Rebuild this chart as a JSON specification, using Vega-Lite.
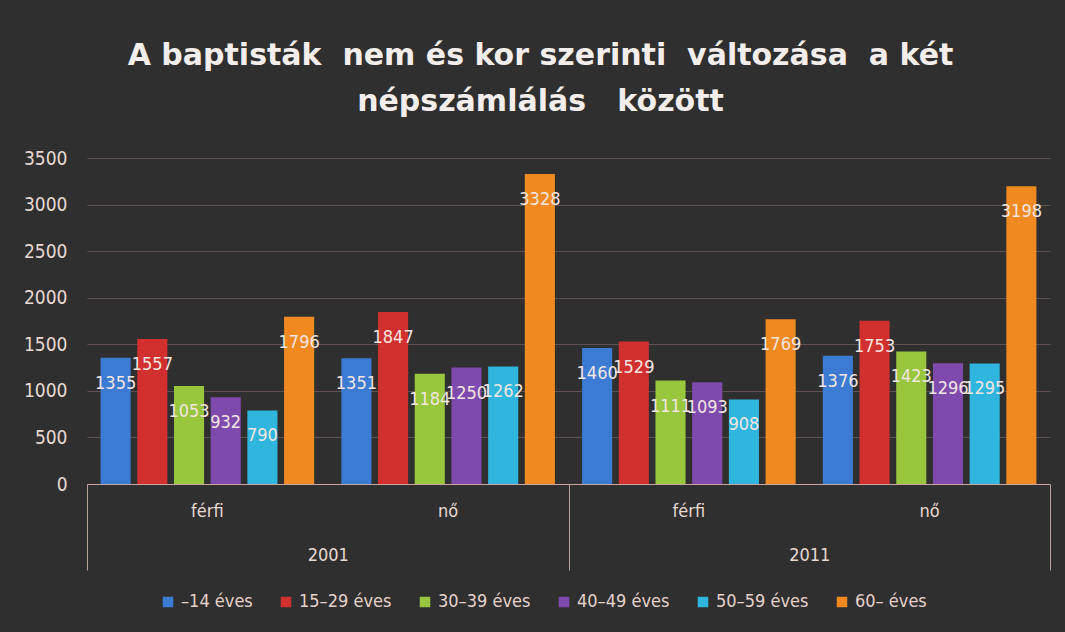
{
  "$schema": "https://vega.github.io/schema/vega-lite/v6.json",
  "width": 963,
  "height": 326,
  "autosize": {"type": "none"},
  "padding": {"left": 87, "top": 158, "right": 15, "bottom": 148},
  "background": "#2f2f2f",
  "title": {
    "text": ["A baptisták \u00a0nem és kor szerinti \u00a0változása \u00a0a két", "népszámlálás \u00a0\u00a0között"],
    "font": "DejaVu Sans",
    "fontSize": 30,
    "fontWeight": "bold",
    "color": "#f3eeec",
    "anchor": "middle",
    "lineHeight": 46,
    "offset": 32,
    "dx": -28
  },
  "config": {
    "view": {"stroke": null},
    "font": "Liberation Sans Narrow, DejaVu Sans Condensed, Roboto Condensed, Roboto",
    "axis": {"labelFont": "Liberation Sans Narrow, DejaVu Sans Condensed, Roboto Condensed, Roboto", "labelColor": "#e9d9d3"},
    "legend": {"labelFont": "Liberation Sans Narrow, DejaVu Sans Condensed, Roboto Condensed, Roboto"}
  },
  "data": {
    "values": [
      {"year": "2001", "sex": "férfi", "age": "–14 éves", "value": 1355},
      {"year": "2001", "sex": "férfi", "age": "15–29 éves", "value": 1557},
      {"year": "2001", "sex": "férfi", "age": "30–39 éves", "value": 1053},
      {"year": "2001", "sex": "férfi", "age": "40–49 éves", "value": 932},
      {"year": "2001", "sex": "férfi", "age": "50–59 éves", "value": 790},
      {"year": "2001", "sex": "férfi", "age": "60– éves", "value": 1796},
      {"year": "2001", "sex": "nő", "age": "–14 éves", "value": 1351},
      {"year": "2001", "sex": "nő", "age": "15–29 éves", "value": 1847},
      {"year": "2001", "sex": "nő", "age": "30–39 éves", "value": 1184},
      {"year": "2001", "sex": "nő", "age": "40–49 éves", "value": 1250},
      {"year": "2001", "sex": "nő", "age": "50–59 éves", "value": 1262},
      {"year": "2001", "sex": "nő", "age": "60– éves", "value": 3328},
      {"year": "2011", "sex": "férfi", "age": "–14 éves", "value": 1460},
      {"year": "2011", "sex": "férfi", "age": "15–29 éves", "value": 1529},
      {"year": "2011", "sex": "férfi", "age": "30–39 éves", "value": 1111},
      {"year": "2011", "sex": "férfi", "age": "40–49 éves", "value": 1093},
      {"year": "2011", "sex": "férfi", "age": "50–59 éves", "value": 908},
      {"year": "2011", "sex": "férfi", "age": "60– éves", "value": 1769},
      {"year": "2011", "sex": "nő", "age": "–14 éves", "value": 1376},
      {"year": "2011", "sex": "nő", "age": "15–29 éves", "value": 1753},
      {"year": "2011", "sex": "nő", "age": "30–39 éves", "value": 1423},
      {"year": "2011", "sex": "nő", "age": "40–49 éves", "value": 1296},
      {"year": "2011", "sex": "nő", "age": "50–59 éves", "value": 1295},
      {"year": "2011", "sex": "nő", "age": "60– éves", "value": 3198}
    ]
  },
  "transform": [{"calculate": "datum.year + ' ' + datum.sex", "as": "group"}],
  "layer": [
    {
      "encoding": {
        "x": {
          "field": "group", "type": "nominal", "sort": null,
          "scale": {"paddingInner": 0, "paddingOuter": 0},
          "axis": {
            "title": null, "orient": "bottom", "labelAngle": 0,
            "labelExpr": "split(datum.label, ' ')[1]",
            "ticks": false, "domain": true, "domainColor": "#c9aaa2", "domainWidth": 1,
            "labelFontSize": 18, "labelPadding": 18, "grid": false
          }
        },
        "xOffset": {
          "field": "age", "type": "nominal",
          "sort": ["–14 éves", "15–29 éves", "30–39 éves", "40–49 éves", "50–59 éves", "60– éves"],
          "scale": {"paddingInner": 0.18, "paddingOuter": 0.37}
        },
        "y": {
          "field": "value", "type": "quantitative",
          "scale": {"domain": [0, 3500], "nice": false},
          "axis": {
            "title": null, "values": [0, 500, 1000, 1500, 2000, 2500, 3000, 3500], "format": "d",
            "domain": false, "ticks": false, "labelPadding": 20, "labelFontSize": 19,
            "grid": true, "gridColor": "#5e5252", "gridWidth": 1
          }
        }
      },
      "layer": [
        {
          "mark": {"type": "bar"},
          "encoding": {
            "color": {
              "field": "age", "type": "nominal",
              "scale": {
                "domain": ["–14 éves", "15–29 éves", "30–39 éves", "40–49 éves", "50–59 éves", "60– éves"],
                "range": ["#3b7bd4", "#d2302f", "#98c63c", "#7f4aae", "#2fb6de", "#f0891f"]
              },
              "legend": {
                "title": null, "orient": "none", "legendX": 72, "legendY": 435, "direction": "horizontal",
                "symbolType": "square", "symbolSize": 110, "symbolStrokeWidth": 0,
                "labelFontSize": 18, "labelColor": "#e6d2cb", "columnPadding": 24, "labelOffset": 4
              }
            }
          }
        },
        {
          "mark": {"type": "text", "dy": 26, "fontSize": 18, "color": "#f3e5e0"},
          "encoding": {
            "text": {"field": "value", "type": "quantitative"}
          }
        }
      ]
    },
    {
      "mark": {"type": "bar", "opacity": 0},
      "encoding": {
        "x": {
          "field": "year", "type": "nominal",
          "scale": {"paddingInner": 0, "paddingOuter": 0},
          "axis": {
            "title": null, "orient": "bottom", "labelAngle": 0,
            "tickBand": "extent", "ticks": true, "tickSize": 86, "tickColor": "#b9a29c", "tickWidth": 1,
            "domain": false, "labelFontSize": 18, "labelPadding": -24, "grid": false
          }
        }
      }
    }
  ],
  "resolve": {"scale": {"x": "independent"}}
}
